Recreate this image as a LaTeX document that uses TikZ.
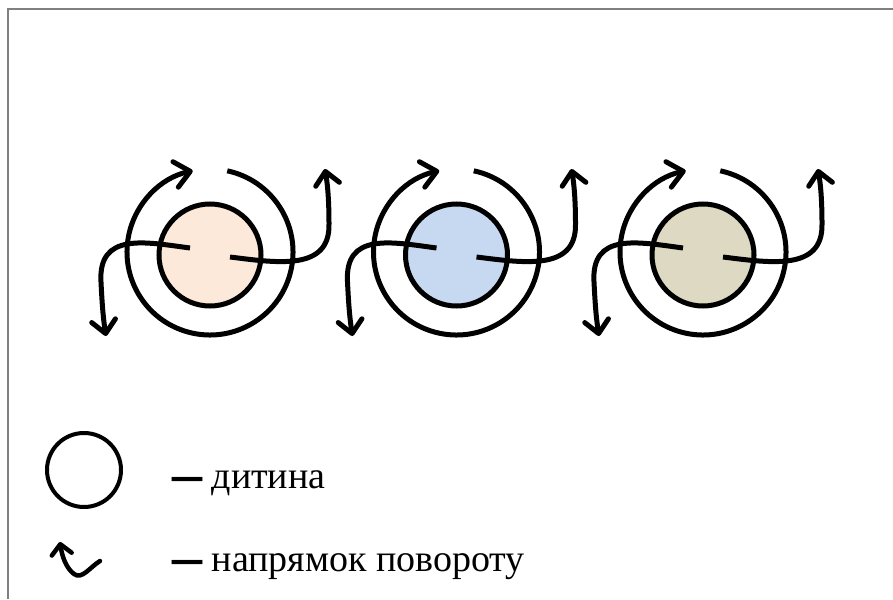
\documentclass[tikz,border=0pt]{standalone}
\usepackage{fontspec}
\setmainfont{Liberation Serif}
\usetikzlibrary{arrows.meta}
\definecolor{peach}{HTML}{FDE9D9}
\definecolor{paleblue}{HTML}{C6D9F1}
\definecolor{khaki}{HTML}{DDD9C3}
\newcommand\legdash{\raisebox{-5.5pt}{\fontsize{60}{60}\selectfont\bfseries –}}
\tikzset{
  frameline/.style={draw=gray, line width=2pt},
  child/.style={circle, draw=black, line width=5pt, minimum size=102pt, inner sep=0pt},
  legchild/.style={circle, draw=black, line width=4pt, minimum size=74pt, inner sep=0pt},
  ring/.style={line width=5pt, -{Straight Barb[length=15pt,width=26pt,round]}},
  swirl/.style={line width=5pt, -{Straight Barb[length=13pt,width=24pt,round]}},
  legswirl/.style={line width=4.5pt, line cap=round, -{Straight Barb[length=10pt,width=20pt,round]}},
  legtext/.style={anchor=base west, inner sep=0pt, font=\fontsize{38}{40}\selectfont}
}
\begin{document}
\begin{tikzpicture}[x=1pt,y=-1pt]
\useasboundingbox (0,0) rectangle (893,599);
\draw[frameline] (7.5,599) -- (7.5,9.5) -- (893,9.5);
\foreach \i/\cx/\col in {1/210/peach, 2/456.5/paleblue, 3/703/khaki} {
  \begin{scope}[shift={(\cx,252)}]
    \node[child, fill=\col] (c\i) at (0,3) {};
    \draw[ring] (-78:83) arc[start angle=-78, end angle=258, radius=83];
    \draw[swirl] (-20,-4) .. controls (-65,-10) and (-112,-20) .. (-109,30)
                 .. controls (-108,50) and (-107,65) .. (-104,84);
    \draw[swirl] (20,5) .. controls (68,11) and (120,19) .. (119,-28)
                 .. controls (119,-48) and (118,-65) .. (115,-83);
  \end{scope}
}
\node[legchild] (legc) at (84,470) {};
\draw[legswirl] (100,561) .. controls (90,567) and (82,580) .. (74,574)
                .. controls (66,568) and (62,556) .. (60,542);
\node[legtext] (t1) at (172,488) {\legdash\ дитина};
\node[legtext] (t2) at (172,571) {\legdash\ напрямок повороту};
\end{tikzpicture}
\end{document}
